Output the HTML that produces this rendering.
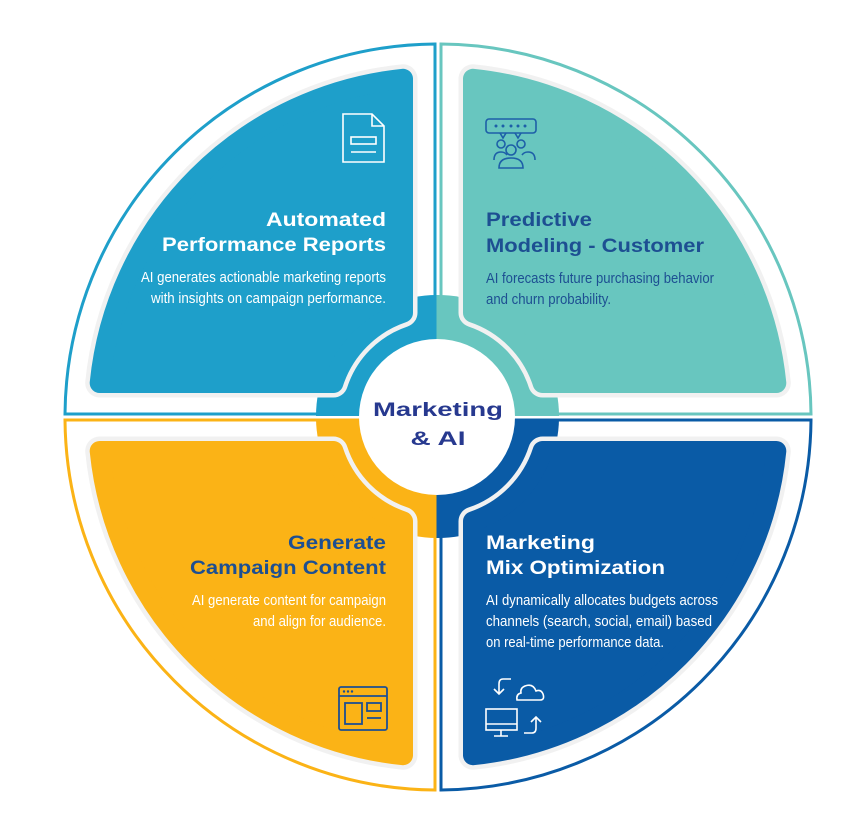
<!DOCTYPE html>
<html><head><meta charset="utf-8"><style>
html,body{margin:0;padding:0;background:#fff;}
svg{display:block;}
.t{font-family:"Liberation Sans",sans-serif;font-weight:bold;font-size:19px;}
.b{font-family:"Liberation Sans",sans-serif;font-size:15px;}
</style></head><body>
<svg width="862" height="834" viewBox="0 0 862 834" xmlns="http://www.w3.org/2000/svg">
<g fill="#fff" stroke-width="3">
<path d="M435,414 L435,44 A373 373 0 0 0 65,414 Z" stroke="#1e9fca"/>
<path d="M441,414 L441,44 A373 373 0 0 1 811,414 Z" stroke="#68c6bf"/>
<path d="M435,420 L65,420 A373 373 0 0 0 435,790 Z" stroke="#fbb316"/>
<path d="M441,420 L811,420 A373 373 0 0 1 441,790 Z" stroke="#0a5ba6"/>
</g>
<path d="M436.5,416 L436.5,295 A121 121 0 0 0 316,416 Z" fill="#1e9fca"/>
<path d="M436.5,416 L436.5,295 A121 121 0 0 1 559,416 Z" fill="#68c6bf"/>
<path d="M436.5,418.5 L316,418.5 A121 121 0 0 0 436.5,538 Z" fill="#fbb316"/>
<path d="M436.5,418.5 L559,418.5 A121 121 0 0 1 436.5,538 Z" fill="#0a5ba6"/>
<g stroke-linejoin="round">
<g fill="#f1f1f1" stroke="#f1f1f1" stroke-width="29">
<path d="M403,78.8 L403,312.7 A110 110 0 0 0 333.4,383 L99.7,383 A340 340 0 0 1 403,78.8 Z"/>
<path d="M473,78.8 L473,312.7 A110 110 0 0 1 542.6,383 L776.3,383 A340 340 0 0 0 473,78.8 Z"/>
<path d="M403,755.2 L403,521.3 A110 110 0 0 1 333.4,451 L99.7,451 A340 340 0 0 0 403,755.2 Z"/>
<path d="M473,755.2 L473,521.3 A110 110 0 0 0 542.6,451 L776.3,451 A340 340 0 0 1 473,755.2 Z"/>
</g>
<g stroke-width="20">
<path d="M403,78.8 L403,312.7 A110 110 0 0 0 333.4,383 L99.7,383 A340 340 0 0 1 403,78.8 Z" fill="#1e9fca" stroke="#1e9fca"/>
<path d="M473,78.8 L473,312.7 A110 110 0 0 1 542.6,383 L776.3,383 A340 340 0 0 0 473,78.8 Z" fill="#68c6bf" stroke="#68c6bf"/>
<path d="M403,755.2 L403,521.3 A110 110 0 0 1 333.4,451 L99.7,451 A340 340 0 0 0 403,755.2 Z" fill="#fbb316" stroke="#fbb316"/>
<path d="M473,755.2 L473,521.3 A110 110 0 0 0 542.6,451 L776.3,451 A340 340 0 0 1 473,755.2 Z" fill="#0a5ba6" stroke="#0a5ba6"/>
</g>
</g>
<circle cx="437" cy="417" r="78" fill="#fff"/>
<text class="t" x="438" y="416" text-anchor="middle" font-size="23" fill="#27398f" textLength="130" lengthAdjust="spacingAndGlyphs">Marketing</text>
<text class="t" x="438" y="445" text-anchor="middle" font-size="23" fill="#27398f" textLength="55" lengthAdjust="spacingAndGlyphs">&amp; AI</text>

<g fill="#fff">
<text class="t" x="386" y="226" text-anchor="end" textLength="120" lengthAdjust="spacingAndGlyphs">Automated</text>
<text class="t" x="386" y="251" text-anchor="end" textLength="224" lengthAdjust="spacingAndGlyphs">Performance Reports</text>
<text class="b" x="386" y="282" text-anchor="end" textLength="245" lengthAdjust="spacingAndGlyphs">AI generates actionable marketing reports</text>
<text class="b" x="386" y="303" text-anchor="end" textLength="235" lengthAdjust="spacingAndGlyphs">with insights on campaign performance.</text>
</g>
<g fill="#1d4f92">
<text class="t" x="486" y="226" textLength="106" lengthAdjust="spacingAndGlyphs">Predictive</text>
<text class="t" x="486" y="252" textLength="218" lengthAdjust="spacingAndGlyphs">Modeling - Customer</text>
<text class="b" x="486" y="283" textLength="228" lengthAdjust="spacingAndGlyphs">AI forecasts future purchasing behavior</text>
<text class="b" x="486" y="304" textLength="125" lengthAdjust="spacingAndGlyphs">and churn probability.</text>
</g>
<g fill="#1d4f92">
<text class="t" x="386" y="549" text-anchor="end" textLength="98" lengthAdjust="spacingAndGlyphs">Generate</text>
<text class="t" x="386" y="574" text-anchor="end" textLength="196" lengthAdjust="spacingAndGlyphs">Campaign Content</text>
</g>
<g fill="#fff">
<text class="b" x="386" y="605" text-anchor="end" textLength="194" lengthAdjust="spacingAndGlyphs">AI generate content for campaign</text>
<text class="b" x="386" y="626" text-anchor="end" textLength="133" lengthAdjust="spacingAndGlyphs">and align for audience.</text>
</g>
<g fill="#fff">
<text class="t" x="486" y="549" textLength="109" lengthAdjust="spacingAndGlyphs">Marketing</text>
<text class="t" x="486" y="574" textLength="179" lengthAdjust="spacingAndGlyphs">Mix Optimization</text>
<text class="b" x="486" y="605" textLength="232" lengthAdjust="spacingAndGlyphs">AI dynamically allocates budgets across</text>
<text class="b" x="486" y="626" textLength="226" lengthAdjust="spacingAndGlyphs">channels (search, social, email) based</text>
<text class="b" x="486" y="647" textLength="178" lengthAdjust="spacingAndGlyphs">on real-time performance data.</text>
</g>

<g fill="none" stroke="#fff" stroke-width="1.6">
<path d="M343,114 L372,114 L384,126 L384,162 L343,162 Z M372,114 L372,126 L384,126"/>
<rect x="351" y="137" width="25" height="7"/>
<line x1="351" y1="152" x2="376" y2="152"/>
</g>
<g fill="none" stroke="#1d5fa8" stroke-width="1.6">
<rect x="486" y="119" width="50" height="14" rx="3"/>
<path d="M500,133 L503,138 L506,133 M515,133 L518,138 L521,133"/>
<circle cx="501" cy="144" r="4"/><circle cx="521" cy="144" r="4"/><circle cx="511" cy="150" r="5"/>
<path d="M494,160 q0,-8 7,-8 q4,0 6,3 M535,160 q0,-8 -7,-8 q-4,0 -6,3 M499,168 q0,-10 12,-10 q12,0 12,10 Z"/>
</g>
<g fill="#1d5fa8"><circle cx="496" cy="126" r="1.5"/><circle cx="503" cy="126" r="1.5"/><circle cx="511" cy="126" r="1.5"/><circle cx="518" cy="126" r="1.5"/><circle cx="525" cy="126" r="1.5"/></g>
<g fill="none" stroke="#1d4f92" stroke-width="1.8">
<rect x="339" y="687" width="48" height="43" rx="2"/>
<line x1="339" y1="696" x2="387" y2="696"/>
<rect x="345" y="703" width="17" height="21"/>
<rect x="367" y="703" width="14" height="8"/>
<line x1="367" y1="718" x2="381" y2="718"/>
</g>
<g fill="#1d4f92"><circle cx="344" cy="691.5" r="1.2"/><circle cx="348" cy="691.5" r="1.2"/><circle cx="352" cy="691.5" r="1.2"/></g>
<g fill="none" stroke="#fff" stroke-width="1.6">
<path d="M511,679 L503,679 Q499,679 499,684 L499,694 M494,689 L499,694 L504,689"/>
<path d="M517,700 L540,700 Q545,700 543,694 Q541,689 536,691 Q533,683 525,686 Q520,688 521,693 Q516,694 517,700 Z"/>
<rect x="486" y="709" width="31" height="21"/>
<line x1="486" y1="724" x2="517" y2="724"/>
<path d="M501,730 L501,736 M494,736 L508,736"/>
<path d="M524,733 L532,733 Q536,733 536,728 L536,717 M531,722 L536,717 L541,722"/>
</g>
</svg>
</body></html>
